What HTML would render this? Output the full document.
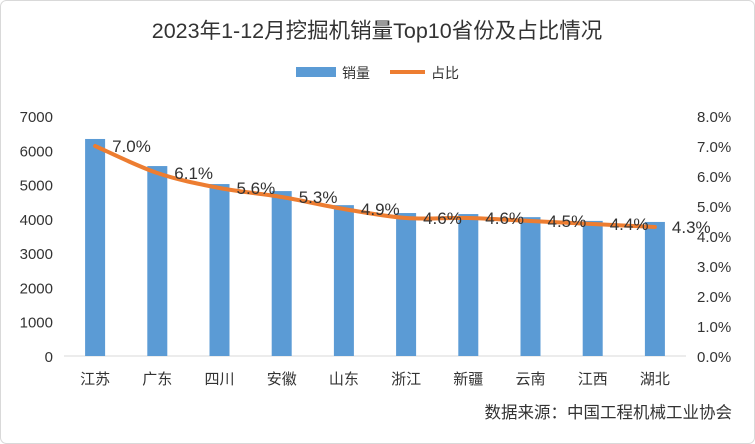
<!DOCTYPE html>
<html><head><meta charset="utf-8"><style>
body{margin:0;background:#fff;}
#wrap{position:relative;width:755px;height:444px;overflow:hidden;font-family:"Liberation Sans","Noto Sans CJK SC",sans-serif;}
</style></head><body>
<div id="wrap">
<svg id="chart" width="755" height="444" xmlns="http://www.w3.org/2000/svg">
<rect x="0.5" y="0.5" width="754" height="443" rx="6" fill="#fff" stroke="#d9d9d9"/>
<text x="377" y="38" text-anchor="middle" font-size="21.5" fill="#333" font-family="Liberation Sans, Noto Sans CJK SC, sans-serif">2023年1-12月挖掘机销量Top10省份及占比情况</text>
<g>
<rect x="296" y="67" width="40" height="10" fill="#5b9bd5"/>
<text x="342" y="78" font-size="14" fill="#333">销量</text>
<line x1="390" y1="72" x2="425" y2="72" stroke="#ed7d31" stroke-width="4"/>
<text x="431" y="78" font-size="14" fill="#333">占比</text>
</g>
<g id="plot"></g>
<text x="732" y="418" text-anchor="end" font-size="16.5" fill="#333">数据来源：中国工程机械工业协会</text>
</svg>
</div>
<script>
const categories=["江苏","广东","四川","安徽","山东","浙江","新疆","云南","江西","湖北"];
const sales=[6330,5540,5015,4810,4400,4170,4140,4050,3940,3910];
const shares=[7.0,6.1,5.6,5.3,4.9,4.6,4.6,4.5,4.4,4.3];
const leftTicks=[0,1000,2000,3000,4000,5000,6000,7000];
const rightTicks=[0,1,2,3,4,5,6,7,8];
const NS="http://www.w3.org/2000/svg";
const g=document.getElementById('plot');
const x0=64,x1=686,yB=356,yT=116;
const bw=(x1-x0)/categories.length;
const xC=i=>x0+bw*(i+0.5);
const yL=v=>yB-(v/7000)*(yB-yT);
const yR=v=>yB-(v/8)*(yB-yT);
function mk(tag,attrs){const e=document.createElementNS(NS,tag);for(const k in attrs)e.setAttribute(k,attrs[k]);g.appendChild(e);return e;}
let ax=mk('line',{x1:x0,y1:yB,x2:x1,y2:yB,stroke:'#d9d9d9'});


leftTicks.forEach(v=>{const t=mk('text',{x:53,y:yL(v)+6,'text-anchor':'end','font-size':15,fill:'#333'});t.textContent=v;

});
rightTicks.forEach(v=>{const t=mk('text',{x:697,y:yR(v)+6,'font-size':15,fill:'#333'});t.textContent=v.toFixed(1)+'%';

});
categories.forEach((c,i)=>{
const r=mk('rect',{x:xC(i)-10,y:yL(sales[i]),width:20,height:yB-yL(sales[i]),fill:'#5b9bd5'});


const t=mk('text',{x:xC(i),y:384,'text-anchor':'middle','font-size':15,fill:'#333'});t.textContent=c;


});
const pts=shares.map((s,i)=>[xC(i),yR(s)]);
let d='M'+pts[0][0]+','+pts[0][1];
const T=1/6;
for(let i=0;i<pts.length-1;i++){
const p0=pts[Math.max(0,i-1)],p1=pts[i],p2=pts[i+1],p3=pts[Math.min(pts.length-1,i+2)];
const c1=[p1[0]+(p2[0]-p0[0])*T,p1[1]+(p2[1]-p0[1])*T];
const c2=[p2[0]-(p3[0]-p1[0])*T,p2[1]-(p3[1]-p1[1])*T];
d+=` C${c1[0]},${c1[1]} ${c2[0]},${c2[1]} ${p2[0]},${p2[1]}`;}
const ln=mk('path',{d:d,fill:'none',stroke:'#ed7d31','stroke-width':4,'stroke-linecap':'round'});


shares.forEach((s,i)=>{const t=mk('text',{x:pts[i][0]+17,y:pts[i][1]+6,'font-size':17,fill:'#333'});t.textContent=s.toFixed(1)+'%';

});
</script>
</body></html>
